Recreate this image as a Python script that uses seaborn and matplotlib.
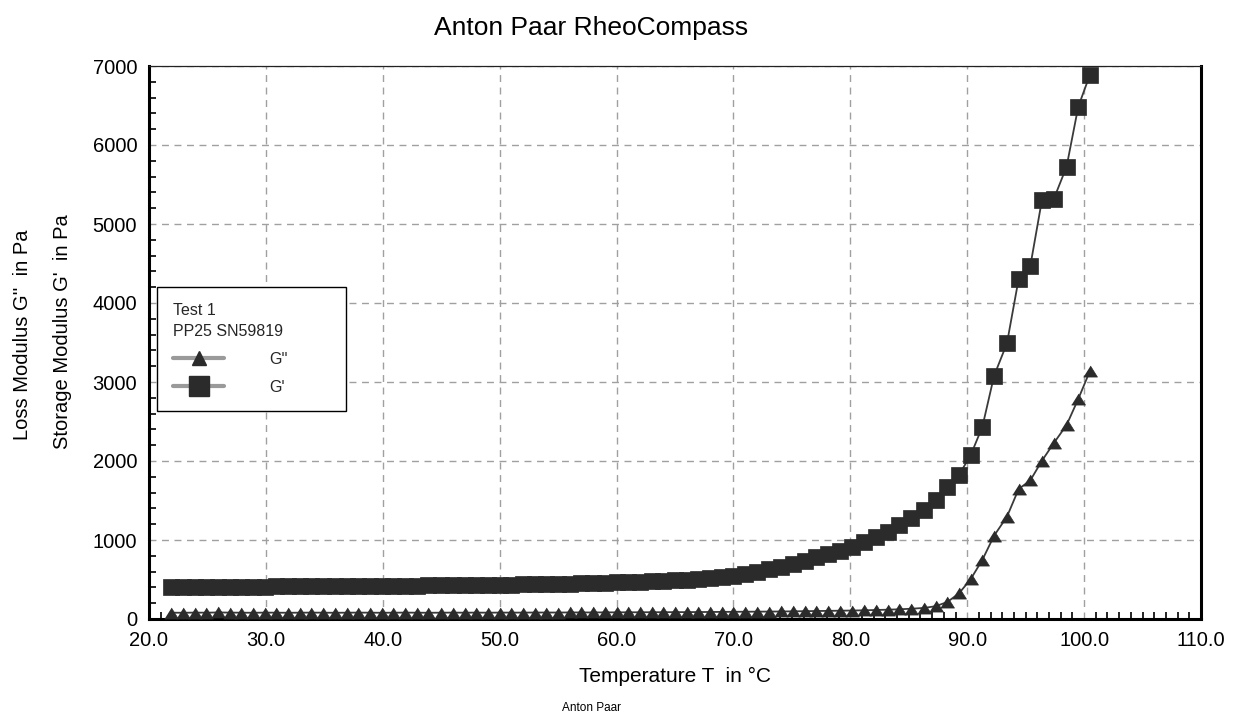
import matplotlib
matplotlib.use("Agg")
import matplotlib.pyplot as plt
from matplotlib.lines import Line2D
from matplotlib.ticker import MultipleLocator, FormatStrFormatter
import seaborn as sns
import pandas as pd

# temperature ramp in degC (one point per ~1 degC)
temperature = [21.9, 22.9, 23.9, 24.9, 25.9, 26.9, 27.9, 28.9, 29.9, 30.9,
               31.9, 32.9, 33.9, 34.9, 35.9, 36.9, 37.9, 38.9, 39.9, 40.9,
               41.9, 42.9, 43.9, 45.0, 46.0, 47.0, 48.0, 49.0, 50.0, 51.0,
               52.0, 53.0, 54.0, 55.0, 56.0, 57.0, 58.0, 59.0, 60.0, 61.0,
               62.0, 63.0, 64.0, 65.0, 66.0, 67.0, 68.0, 69.0, 70.0, 71.0,
               72.0, 73.0, 74.1, 75.1, 76.1, 77.1, 78.1, 79.1, 80.1, 81.2,
               82.2, 83.2, 84.2, 85.2, 86.3, 87.3, 88.3, 89.3, 90.3, 91.3,
               92.3, 93.4, 94.4, 95.4, 96.4, 97.4, 98.5, 99.5, 100.5]

# storage modulus G' in Pa
g_storage = [403, 404, 405, 406, 407, 408, 409, 410, 411, 412,
             413, 414, 415, 416, 417, 418, 419, 420, 421, 422,
             423, 424, 425, 426, 427, 429, 430, 432, 434, 436,
             438, 440, 442, 445, 448, 451, 455, 459, 463, 468,
             473, 478, 484, 491, 499, 508, 519, 533, 550, 572,
             598, 628, 662, 700, 740, 780, 822, 865, 912, 975,
             1040, 1105, 1185, 1275, 1380, 1505, 1665, 1825, 2075, 2435,
             3080, 3490, 4305, 4470, 5310, 5315, 5725, 6485, 6890]

# loss modulus G'' in Pa
g_loss = [80, 79, 81, 80, 83, 81, 80, 79, 81, 80,
          79, 80, 81, 80, 79, 80, 81, 80, 79, 80,
          81, 80, 79, 80, 81, 80, 81, 80, 81, 81,
          81, 82, 82, 82, 83, 83, 83, 84, 84, 85,
          85, 86, 86, 87, 87, 88, 89, 90, 91, 92,
          93, 94, 95, 97, 99, 101, 103, 105, 107, 110,
          114, 118, 123, 130, 140, 162, 215, 325, 505, 750,
          1055, 1295, 1645, 1755, 2005, 2225, 2455, 2785, 3140]

df = pd.DataFrame({"T": temperature, "Gs": g_storage, "Gl": g_loss})

sns.set_theme(style="white")
plt.rcParams["font.family"] = ["Liberation Sans", "DejaVu Sans"]

dark = "#2b2b2b"
tri = [(-1, -0.8), (1, -0.8), (0, 0.8)]

fig = plt.figure(figsize=(12.39, 7.17), dpi=100)
ax = fig.add_axes([149 / 1239, 1 - 619 / 717, 1052 / 1239, 553 / 717])

sns.lineplot(data=df, x="T", y="Gs", ax=ax, color="#3a3a3a", linewidth=1.3,
             marker="s", markersize=12, markerfacecolor=dark,
             markeredgecolor=dark, markeredgewidth=0.5, zorder=3)
sns.lineplot(data=df, x="T", y="Gl", ax=ax, color="#3a3a3a", linewidth=1.3,
             marker=tri, markersize=10, markerfacecolor=dark,
             markeredgecolor=dark, markeredgewidth=0.5, zorder=4)

ax.set_xlim(20, 110)
ax.set_ylim(0, 7000)
ax.xaxis.set_major_locator(MultipleLocator(10))
ax.xaxis.set_minor_locator(MultipleLocator(1))
ax.xaxis.set_major_formatter(FormatStrFormatter("%.1f"))
ax.yaxis.set_major_locator(MultipleLocator(1000))
ax.yaxis.set_minor_locator(MultipleLocator(200))

ax.grid(True, which="major", color="#a0a0a0", linestyle=(0, (5, 4)), linewidth=1)
ax.tick_params(axis="both", which="major", direction="inout", length=9, width=1.8,
               labelsize=14.5, color="black", labelcolor="black", pad=4)
ax.tick_params(axis="both", which="minor", direction="in", length=5, width=1.2,
               color="black")
ax.tick_params(top=False, right=False, which="both")
ax.tick_params(axis="both", which="minor", bottom=True, left=True)

for side in ["left", "bottom", "right"]:
    ax.spines[side].set_linewidth(2.2)
    ax.spines[side].set_color("black")
ax.spines["top"].set_linewidth(0.9)
ax.spines["top"].set_color("#222222")

ax.set_xlabel("Temperature T  in °C", fontsize=15, labelpad=12, color="black")
ax.set_ylabel("")

fig.text(23 / 1239, 1 - 335 / 717, "Loss Modulus G''  in Pa", rotation=90,
         ha="center", va="center", fontsize=14.5, color="black")
fig.text(62 / 1239, 1 - 332 / 717, "Storage Modulus G'  in Pa", rotation=90,
         ha="center", va="center", fontsize=14.5, color="black")

fig.text(591 / 1239, 1 - 28 / 717, "Anton Paar RheoCompass", ha="center",
         va="center", fontsize=19, color="black")
fig.text(592 / 1239, 1 - 708 / 717, "Anton Paar", ha="center", va="center",
         fontsize=8.5, color="black")

# legend box: x 157..346, y 287..414 px in the figure
handles = [
    Line2D([], [], color="#9a9a9a", linewidth=3, marker="^", markersize=10,
           markerfacecolor=dark, markeredgecolor=dark),
    Line2D([], [], color="#9a9a9a", linewidth=3, marker="s", markersize=14,
           markerfacecolor=dark, markeredgecolor=dark),
]
leg = ax.legend(handles, ["G''", "G'"], title="Test 1\nPP25 SN59819",
                loc="upper left",
                bbox_to_anchor=(8 / 1052, (619 - 414) / 553, 189 / 1052, 127 / 553),
                mode="expand", borderaxespad=0, fancybox=False, framealpha=1,
                edgecolor="black", fontsize=11.5, title_fontsize=11.5,
                alignment="left", handlelength=3.2, handletextpad=2.8,
                labelspacing=0.8, borderpad=1.0)
leg.get_frame().set_linewidth(1.0)
leg.get_title().set_linespacing(1.5)

fig.savefig("out.png", dpi=100)
